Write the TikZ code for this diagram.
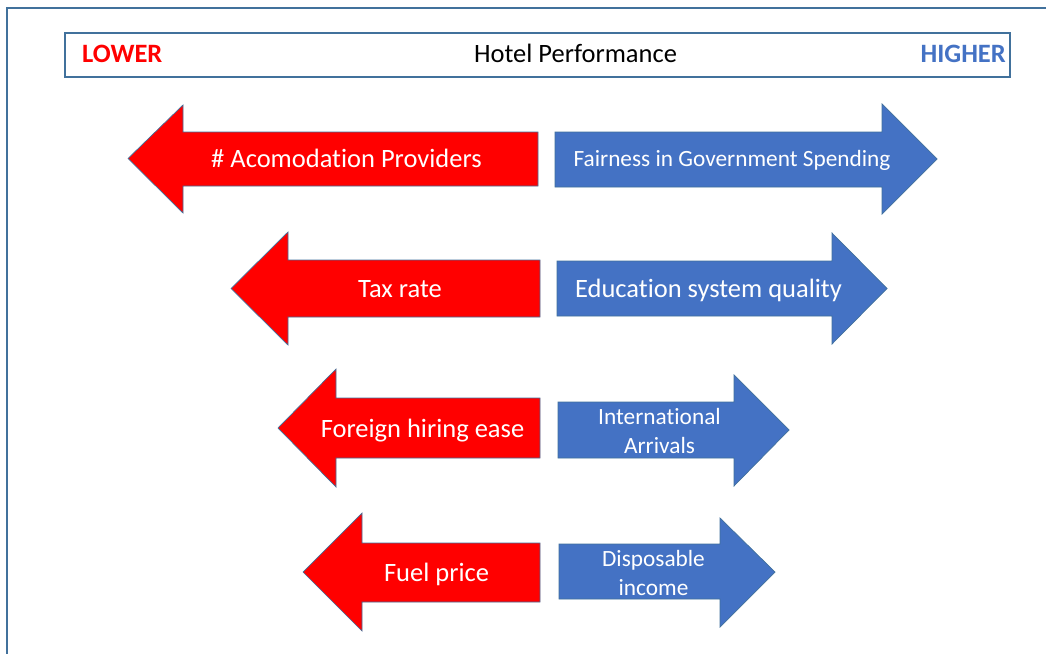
\documentclass[tikz,border=0pt]{standalone}
\usepackage{fontspec}
\setmainfont{Carlito}[Ligatures=NoCommon]
\definecolor{arrowred}{HTML}{FF0000}
\definecolor{arrowblue}{HTML}{4472C4}
\definecolor{edge}{HTML}{41719C}
\begin{document}
\begin{tikzpicture}[x=1pt,y=-1pt,
  redarrow/.style={fill=arrowred, draw=edge, line width=0.7pt, line join=miter},
  bluearrow/.style={fill=arrowblue, draw=edge, line width=0.7pt, line join=miter},
  biglabel/.style={text=white, inner sep=0pt, font=\fontsize{26.5}{32}\selectfont, text height=17pt, text depth=0pt},
  smalllabel/.style={text=white, inner sep=0pt, font=\fontsize{23.3}{28.4}\selectfont},
  twolabel/.style={text=white, inner sep=0pt, align=center, font=\fontsize{23.3}{28.4}\selectfont},
  headtext/.style={inner sep=0pt, font=\fontsize{26.5}{32}\selectfont, text height=17pt, text depth=0pt}]
\useasboundingbox (0,0) rectangle (1046,653);
\fill[white] (0,0) rectangle (1046,653);
% outer frame (open at right and bottom)
\draw[edge, line width=1.5pt] (7,660) -- (7,8) -- (1052,8);
% header
\draw[edge, line width=2.5pt] (65,33) rectangle (1010,77);
\node[headtext, anchor=west, text=arrowred, font=\fontsize{26.5}{32}\selectfont\bfseries] (lower) at (82,54) {LOWER};
\node[headtext] (title) at (575.5,54) {Hotel Performance};
\node[headtext, anchor=east, text=arrowblue, font=\fontsize{26.5}{32}\selectfont\bfseries] (higher) at (1006,54) {HIGHER};
% row 1
\draw[redarrow] (128,158.5) -- (183,105) -- (183,132) -- (538,132) -- (538,186) -- (183,186) -- (183,213) -- cycle;
\draw[bluearrow] (555,132) -- (882,132) -- (882,104) -- (937,159) -- (882,214) -- (882,187) -- (555,187) -- cycle;
\node[biglabel] (acc) at (346.5,159) {\# Acomodation Providers};
\node[smalllabel, text height=15pt, text depth=0pt] (fair) at (732,158.5) {Fairness in Government Spending};
% row 2
\draw[redarrow] (231,288.5) -- (288,232) -- (288,260) -- (540,260) -- (540,317) -- (288,317) -- (288,345) -- cycle;
\draw[bluearrow] (557,261) -- (832,261) -- (832,233) -- (887,288.5) -- (832,344) -- (832,316) -- (557,316) -- cycle;
\node[biglabel] (tax) at (400,289) {Tax rate};
\node[biglabel] (edu) at (708.5,289) {Education system quality};
% row 3
\draw[redarrow] (278,428) -- (336,369) -- (336,398) -- (540,398) -- (540,458) -- (336,458) -- (336,487) -- cycle;
\draw[bluearrow] (558,402) -- (734,402) -- (734,375) -- (789,430) -- (734,486) -- (734,458) -- (558,458) -- cycle;
\node[biglabel] (hire) at (422.5,428.5) {Foreign hiring ease};
\node[twolabel] (intl) at (659.5,431) {International\\Arrivals};
% row 4
\draw[redarrow] (303,572) -- (362,513) -- (362,543) -- (540,543) -- (540,602) -- (362,602) -- (362,631) -- cycle;
\draw[bluearrow] (559,544) -- (720,544) -- (720,518) -- (775,572) -- (720,627) -- (720,599) -- (559,599) -- cycle;
\node[biglabel] (fuel) at (436.5,572.5) {Fuel price};
\node[twolabel] (disp) at (653.5,573) {Disposable\\income};
\end{tikzpicture}
\end{document}
